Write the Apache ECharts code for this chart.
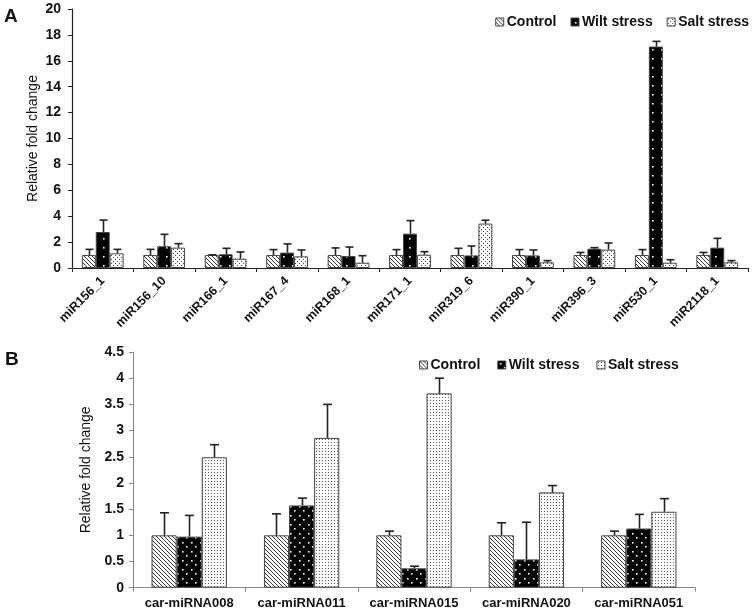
<!DOCTYPE html>
<html>
<head>
<meta charset="utf-8">
<script src="https://cdn.jsdelivr.net/npm/echarts@6/dist/echarts.min.js"></script>
<style>
html,body{margin:0;padding:0;background:#fff;}
#chart{width:756px;height:612px;}
</style>
</head>
<body>
<div id="chart"></div>
<script>
// ---- Data ----
const seriesNames = ['Control', 'Wilt stress', 'Salt stress'];

const catsA = ['miR156_1','miR156_10','miR166_1','miR167_4','miR168_1','miR171_1','miR319_6','miR390_1','miR396_3','miR530_1','miR2118_1'];
const controlA = [1, 1, 1, 1, 1, 1, 1, 1, 1, 1, 1];
const wiltA    = [2.78, 1.68, 1.06, 1.19, 0.93, 2.65, 0.97, 0.97, 1.49, 17.1, 1.57];
const saltA    = [1.13, 1.57, 0.72, 0.9, 0.41, 1.03, 3.43, 0.44, 1.42, 0.41, 0.44];
const controlErrA = [1.44, 1.44, 1.02, 1.42, 1.55, 1.42, 1.52, 1.42, 1.2, 1.42, 1.2];
const wiltErrA    = [3.7, 2.6, 1.52, 1.86, 1.62, 3.66, 1.7, 1.39, 1.57, 17.5, 2.29];
const saltErrA    = [1.44, 1.88, 1.24, 1.39, 0.95, 1.26, 3.69, 0.57, 1.93, 0.64, 0.57];
const ticksA = [0, 2, 4, 6, 8, 10, 12, 14, 16, 18, 20];

const catsB = ['car-miRNA008','car-miRNA011','car-miRNA015','car-miRNA020','car-miRNA051'];
const controlB = [1, 1, 1, 1, 1];
const wiltB    = [0.975, 1.57, 0.37, 0.54, 1.13];
const saltB    = [2.49, 2.86, 3.71, 1.82, 1.45];
const controlErrB = [1.43, 1.41, 1.08, 1.24, 1.08];
const wiltErrB    = [1.38, 1.71, 0.41, 1.25, 1.4];
const saltErrB    = [2.73, 3.5, 4.0, 1.95, 1.7];
const ticksB = [0, 0.5, 1, 1.5, 2, 2.5, 3, 3.5, 4, 4.5];

// ---- Patterns ----
function hatch(s, color){
  const c = document.createElement('canvas'); c.width = s; c.height = s;
  const g = c.getContext('2d');
  g.fillStyle = '#fff'; g.fillRect(0,0,s,s);
  g.strokeStyle = color; g.lineWidth = 1;
  g.beginPath();
  g.moveTo(0,0); g.lineTo(s,s);
  g.moveTo(-1,s-1); g.lineTo(1,s+1);
  g.moveTo(s-1,-1); g.lineTo(s+1,1);
  g.stroke();
  return c;
}
function dots(s, bg, fg, r, stagger){
  const c = document.createElement('canvas'); c.width = s; c.height = s;
  const g = c.getContext('2d');
  g.fillStyle = bg; g.fillRect(0,0,s,s);
  g.fillStyle = fg;
  if (stagger){
    g.fillRect(Math.floor(s/4), Math.floor(s/4), r, r);
    g.fillRect(Math.floor(3*s/4), Math.floor(3*s/4), r, r);
  } else {
    g.fillRect(Math.floor(s/2), Math.floor(s/2), r, r);
  }
  return c;
}
const pat = c => ({image: c, repeat: 'repeat'});
const patA = [pat(hatch(4,'#333')), pat(dots(9,'#000','#fff',1.6,false)), pat(dots(4,'#fff','#444',1,true))];
const patB = [pat(hatch(4,'#333')), pat(dots(9,'#000','#fff',1.6,true)), pat(dots(3,'#fff','#555',1,false))];

const FONT = '"Liberation Sans", Arial, sans-serif';
const gapA = 0.32, gapB = 0.33;

function errSeries(name, xi, yi, k, cats, vals, errs, gap, capW){
  return {
    type: 'custom', name: name, xAxisIndex: xi, yAxisIndex: yi, z: 5,
    data: cats.map((c,i) => [i, vals[i], errs[i]]),
    encode: {x: 0, y: 1},
    renderItem: function(params, api){
      const cat = api.value(0), v = api.value(1), e = api.value(2);
      const band = api.size([1,0])[0];
      const bw = band*(1-gap)/3;
      const p = api.coord([cat, v]);
      const top = api.coord([cat, e])[1];
      const x = Math.round(p[0] + (k-1)*bw) + 0.5;
      return {type: 'group', children: [
        {type: 'line', shape: {x1: x, y1: p[1], x2: x, y2: top}, style: {stroke: '#222', lineWidth: 1.6}},
        {type: 'line', shape: {x1: x-capW/2, y1: top, x2: x+capW/2, y2: top}, style: {stroke: '#222', lineWidth: 1.6}}
      ]};
    }
  };
}

const valsA = [controlA, wiltA, saltA], errsA = [controlErrA, wiltErrA, saltErrA];
const valsB = [controlB, wiltB, saltB], errsB = [controlErrB, wiltErrB, saltErrB];

const series = [];
seriesNames.forEach((n,k) => {
  series.push({type: 'bar', name: n, xAxisIndex: 0, yAxisIndex: 0, data: valsA[k],
    barGap: '0%', barCategoryGap: (gapA*100)+'%',
    itemStyle: {color: patA[k], borderColor: '#444', borderWidth: 1}});
});
seriesNames.forEach((n,k) => {
  series.push({type: 'bar', name: n, xAxisIndex: 1, yAxisIndex: 1, data: valsB[k],
    barGap: '0%', barCategoryGap: (gapB*100)+'%',
    itemStyle: {color: patB[k], borderColor: '#444', borderWidth: 1}});
});
seriesNames.forEach((n,k) => {
  series.push(errSeries('errA'+k, 0, 0, k, catsA, valsA[k], errsA[k], gapA, 8));
  series.push(errSeries('errB'+k, 1, 1, k, catsB, valsB[k], errsB[k], gapB, 9));
});

function legendData(pats){
  return seriesNames.map((n,k) => ({name: n, itemStyle: {color: pats[k], borderColor: '#444', borderWidth: 1}}));
}

const chart = echarts.init(document.getElementById('chart'), null, {renderer: 'canvas'});
chart.setOption({
  animation: false,
  backgroundColor: '#fff',
  textStyle: {fontFamily: FONT},
  grid: [
    {left: 72, top: 9, width: 676, height: 259},
    {left: 133, top: 352, width: 562, height: 235.7}
  ],
  legend: [
    {right: 2, top: 10, itemWidth: 8, itemHeight: 8, itemGap: 14, selectedMode: false, icon: 'rect',
     textStyle: {fontFamily: FONT, fontWeight: 'bold', fontSize: 14, color: '#111', padding: [0,0,0,-2]},
     data: legendData(patA)},
    {left: 414, top: 353, itemWidth: 8, itemHeight: 8, itemGap: 17, selectedMode: false, icon: 'rect',
     textStyle: {fontFamily: FONT, fontWeight: 'bold', fontSize: 14, color: '#111', padding: [0,0,0,-2]},
     data: legendData(patB)}
  ],
  xAxis: [
    {type: 'category', gridIndex: 0, data: catsA,
     axisLine: {lineStyle: {color: '#222', width: 1.2}},
     axisTick: {show: true, length: 4, lineStyle: {color: '#222'}},
     axisLabel: {rotate: 45, margin: 11, interval: 0, fontFamily: FONT, fontWeight: 'bold', fontSize: 12.5, color: '#111'}},
    {type: 'category', gridIndex: 1, data: catsB,
     axisLine: {lineStyle: {color: '#888', width: 1}},
     axisTick: {show: true, length: 4, lineStyle: {color: '#888'}},
     axisLabel: {margin: 9, interval: 0, fontFamily: FONT, fontWeight: 'bold', fontSize: 13, color: '#111'}}
  ],
  yAxis: [
    {type: 'value', gridIndex: 0, min: ticksA[0], max: ticksA[ticksA.length-1], interval: 2,
     name: 'Relative fold change', nameLocation: 'middle', nameGap: 32, nameMoveOverlap: false,
     nameTextStyle: {fontFamily: FONT, fontSize: 14, color: '#111'},
     axisLine: {show: true, lineStyle: {color: '#222', width: 1.2}},
     axisTick: {show: true, length: 4, lineStyle: {color: '#222'}},
     splitLine: {show: false},
     axisLabel: {margin: 11, fontFamily: FONT, fontWeight: 'bold', fontSize: 14, color: '#111'}},
    {type: 'value', gridIndex: 1, min: ticksB[0], max: ticksB[ticksB.length-1], interval: 0.5,
     name: 'Relative fold change', nameLocation: 'middle', nameGap: 40, nameMoveOverlap: false,
     nameTextStyle: {fontFamily: FONT, fontSize: 14, color: '#111'},
     axisLine: {show: true, lineStyle: {color: '#888', width: 1}},
     axisTick: {show: true, length: 4, lineStyle: {color: '#888'}},
     splitLine: {show: false},
     axisLabel: {margin: 9, fontFamily: FONT, fontWeight: 'bold', fontSize: 14, color: '#111',
       formatter: v => String(v)}}
  ],
  graphic: [
    {type: 'text', left: 4, top: 7, style: {text: 'A', font: 'bold 19px ' + FONT, fill: '#111'}},
    {type: 'text', left: 5, top: 350, style: {text: 'B', font: 'bold 19px ' + FONT, fill: '#111'}}
  ],
  series: series
});
</script>
</body>
</html>
